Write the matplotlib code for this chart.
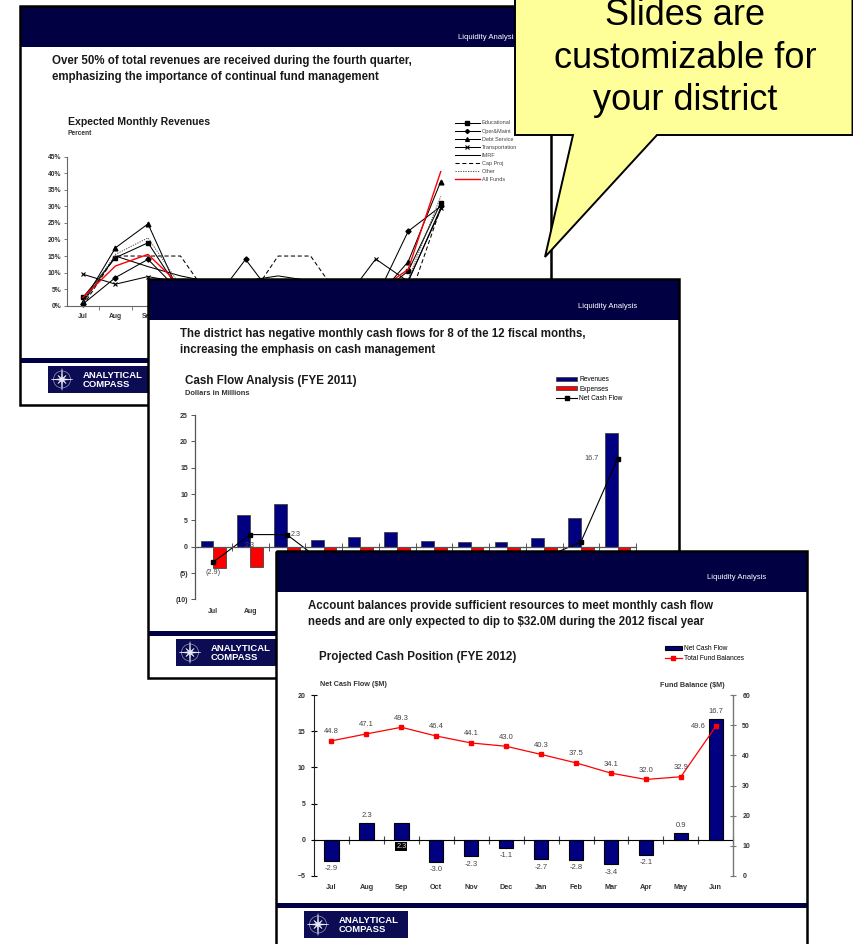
import matplotlib
matplotlib.use('Agg')
import matplotlib.pyplot as plt
from matplotlib.patches import Rectangle, Polygon, Circle
from matplotlib.transforms import blended_transform_factory
import numpy as np

plt.rcParams['font.family'] = ['Liberation Sans', 'DejaVu Sans']

# ---------------- data ----------------
months = ['Jul', 'Aug', 'Sep', 'Oct', 'Nov', 'Dec', 'Jan', 'Feb', 'Mar', 'Apr', 'May', 'Jun']

# Slide 1: Expected Monthly Revenues (percent)
educational    = [2.5, 14.5, 19.0, 4.0, 2.0, 3.0, 3.5, 2.5, 3.0, 2.5, 10.5, 31.0]
oper_maint     = [0.5, 8.5, 14.0, 4.0, 1.0, 14.0, 1.0, 2.0, 3.0, 2.0, 22.5, 30.0]
debt_service   = [1.0, 17.5, 24.7, 3.0, 1.0, 1.0, 1.0, 1.0, 1.0, 2.0, 13.3, 37.5]
transportation = [9.5, 6.5, 8.8, 7.0, 7.0, 7.0, 7.0, 7.0, 1.0, 14.1, 7.3, 29.5]
imrf           = [1.0, 15.0, 11.8, 9.0, 7.0, 7.5, 9.0, 7.5, 7.5, 7.5, 7.5, 29.0]
cap_proj       = [0.0, 15.0, 15.0, 15.0, 1.0, 0.5, 15.0, 15.0, 1.0, 1.0, 1.0, 29.5]
other          = [1.0, 15.5, 20.5, 6.0, 5.0, 5.0, 5.0, 5.0, 5.0, 5.0, 8.0, 33.0]
all_funds      = [2.5, 12.0, 15.5, 6.0, 4.0, 5.0, 4.0, 3.5, 3.0, 4.0, 11.0, 40.5]
pct_ticks = [0, 5, 10, 15, 20, 25, 30, 35, 40, 45]

# Slide 2: Cash Flow Analysis (FYE 2011), $ millions
revenues_2011 = [1.1, 6.1, 8.1, 1.3, 1.8, 2.8, 1.0, 0.8, 0.9, 1.7, 5.4, 21.5]
expenses_2011 = [-4.0, -3.8, -5.8, -4.3, -4.1, -3.9, -3.7, -3.6, -4.3, -3.8, -4.5, -4.8]
net_cash_flow_2011 = [-2.9, 2.3, 2.3, -3.0, -2.3, -1.1, -2.7, -2.8, -3.4, -2.1, 0.9, 16.7]
cf_ticks = [-10, -5, 0, 5, 10, 15, 20, 25]

# Slide 3: Projected Cash Position (FYE 2012), $ millions
net_cash_flow_2012 = [-2.9, 2.3, 2.3, -3.0, -2.3, -1.1, -2.7, -2.8, -3.4, -2.1, 0.9, 16.7]
fund_balances_2012 = [44.8, 47.1, 49.3, 46.4, 44.1, 43.0, 40.3, 37.5, 34.1, 32.0, 32.9, 49.6]
ncf_ticks = [-5, 0, 5, 10, 15, 20]
fb_ticks = [0, 10, 20, 30, 40, 50, 60]

slide_titles = [
    ['Over 50% of total revenues are received during the fourth quarter,',
     'emphasizing the importance of continual fund management'],
    ['The district has negative monthly cash flows for 8 of the 12 fiscal months,',
     'increasing the emphasis on cash management'],
    ['Account balances provide sufficient resources to meet monthly cash flow',
     'needs and are only expected to dip to $32.0M during the 2012 fiscal year'],
]
callout_lines = ['Slides are', 'customizable for', 'your district']

# ---------------- layout ----------------
W, H = 854, 944
fig = plt.figure(figsize=(W / 100, H / 100), dpi=100)
fig.patch.set_facecolor('white')

NAVY = '#000042'
BARNAVY = '#000080'
TXT = '#1a1a1a'
SW, SH = 531, 399
SLIDE_ORIGINS = [(20, 6), (148, 279), (276, 551)]


def frac(x0, y0, x1, y1):
    return [x0 / W, 1 - y1 / H, (x1 - x0) / W, (y1 - y0) / H]


def covered(level, px, py):
    """True if pixel (px, py) (top-left origin) lies under a slide stacked above `level`."""
    for sx, sy in SLIDE_ORIGINS[level + 1:]:
        if sx <= px <= sx + SW and sy <= py <= sy + SH:
            return True
    return False


def to_px(trans, xy):
    dx, dy = trans.transform(xy)
    return dx, H - dy


def draw_logo(ax, x, y, w, h):
    ax.add_patch(Rectangle((x, y), w, h, facecolor='#0c0c55', edgecolor='none'))
    cx, cy = x + 14, y + h / 2
    ax.add_patch(Circle((cx, cy), 8.5, fill=False, edgecolor='#9a9ab8', lw=0.5))
    pts = []
    for k in range(16):
        ang = np.pi / 2 + k * np.pi / 8
        rr = 11 if k % 4 == 0 else (6 if k % 2 == 0 else 1.8)
        pts.append((cx + rr * np.cos(ang), cy - rr * np.sin(ang)))
    ax.add_patch(Polygon(pts, closed=True, facecolor='#e8e8f4', edgecolor='white', lw=0.3))
    ax.text(x + 35, y + h * 0.36, 'ANALYTICAL', color='white', fontsize=6.8,
            fontweight='bold', va='center')
    ax.text(x + 35, y + h * 0.70, 'COMPASS', color='white', fontsize=6.8,
            fontweight='bold', va='center')


def make_slide(level, titles, la_dx, la_dy):
    sx, sy = SLIDE_ORIGINS[level]
    x1, y1 = sx + SW, sy + SH
    ax = fig.add_axes(frac(sx, sy, x1, y1))
    ax.set_xlim(sx, x1)
    ax.set_ylim(y1, sy)
    ax.set_zorder(2 * level + 1)
    ax.axis('off')
    ax.add_patch(Rectangle((sx, sy), SW, SH, facecolor='white', edgecolor='none'))
    ax.add_patch(Rectangle((sx, sy + 1), SW, 40, facecolor=NAVY, edgecolor='none'))
    ax.text(sx + la_dx, sy + la_dy, 'Liquidity Analysis', color='white', fontsize=5.6,
            ha='right', va='center')
    for i, line in enumerate(titles):
        ax.text(sx + 32, sy + 55 + 16 * i, line, fontsize=8.3, fontweight='bold',
                va='center', color=TXT)
    ax.add_patch(Rectangle((sx, sy + 352), SW, 5, facecolor=NAVY, edgecolor='none'))
    draw_logo(ax, sx + 28, sy + 360, 104, 27)
    ax.add_patch(Rectangle((sx, sy), SW, SH, facecolor='none', edgecolor='black',
                           lw=1.8, clip_on=False))
    return ax


x = np.arange(len(months))

# ---------------- slide 1 ----------------
s1 = make_slide(0, slide_titles[0], 497, 31)
s1.text(68, 122, 'Expected Monthly Revenues', fontsize=7.6, fontweight='bold', va='center', color=TXT)
s1.text(68, 133.5, 'Percent', fontsize=4.8, fontweight='bold', va='center', color='#333333')

ax1 = fig.add_axes(frac(66.7, 156.7, 457, 305.7))
ax1.set_zorder(2)
ax1.patch.set_alpha(0)
series1 = [
    ('Educational', educational, dict(color='black', marker='s', ms=3.2)),
    ('Oper&Maint', oper_maint, dict(color='black', marker='D', ms=2.6)),
    ('Debt Service', debt_service, dict(color='black', marker='^', ms=3.4)),
    ('Transportation', transportation, dict(color='black', marker='x', ms=3.2, mew=0.8)),
    ('IMRF', imrf, dict(color='black')),
    ('Cap Proj', cap_proj, dict(color='black', ls=(0, (4, 2.5)))),
    ('Other', other, dict(color='#555555', ls=(0, (1.2, 1.2)))),
    ('All Funds', all_funds, dict(color='#ff0000', lw=1.0)),
]
for name, vals, kw in series1:
    kw = dict(kw)
    kw.setdefault('lw', 0.75)
    ax1.plot(x, vals, label=name, clip_on=False, **kw)
ax1.set_xlim(-0.5, 11.5)
ax1.set_ylim(0, 45)
ax1.set_yticks(pct_ticks)
ax1.set_yticklabels([f'{t}%' for t in pct_ticks])
ax1.set_xticks(x)
ax1.set_xticks(np.arange(0.5, 12, 1), minor=True)
ax1.set_xticklabels([])
for sp in ['top', 'right']:
    ax1.spines[sp].set_visible(False)
for sp in ['left', 'bottom']:
    ax1.spines[sp].set_color('#666666')
    ax1.spines[sp].set_linewidth(0.8)
ax1.tick_params(axis='y', length=2.5, width=0.6, color='#666666', pad=1.5, labelsize=4.9)
ax1.tick_params(axis='x', which='major', length=0)
ax1.tick_params(axis='x', which='minor', length=3, width=0.6, color='#666666')
for lab in ax1.get_yticklabels():
    lab.set_fontweight('bold')
    lab.set_color('#333333')
tr1 = blended_transform_factory(ax1.transData, ax1.transAxes)
for i, m in enumerate(months):
    px, py = to_px(tr1, (i, 0))
    if covered(0, px - 6, py + 10):
        continue
    ax1.annotate(m, xy=(i, 0), xycoords=tr1, xytext=(0, -5.5), textcoords='offset points',
                 ha='center', va='top', fontsize=4.9, fontweight='bold', color='#333333')
leg1 = ax1.legend(loc='upper left', bbox_to_anchor=(455 / W, 1 - 120.5 / H),
                  bbox_transform=fig.transFigure, frameon=False, fontsize=4,
                  handlelength=4.5, handletextpad=0.35, labelspacing=0.55,
                  borderpad=0, borderaxespad=0, markerscale=0.8)
for t in leg1.get_texts():
    t.set_color('#444444')

# ---------------- slide 2 ----------------
s2 = make_slide(1, slide_titles[1], 489, 28)
s2.text(185, 381, 'Cash Flow Analysis (FYE 2011)', fontsize=8.4, fontweight='bold', va='center', color=TXT)
s2.text(185, 393.5, 'Dollars in Millions', fontsize=5.4, fontweight='bold', va='center', color='#333333')

ax2 = fig.add_axes(frac(195, 415, 636, 599.4))
ax2.set_zorder(4)
ax2.patch.set_alpha(0)
bw2 = 0.345
ax2.bar(x - bw2 / 2, revenues_2011, bw2, color=BARNAVY, edgecolor='#444444', lw=0.6, label='Revenues')
ax2.bar(x + bw2 / 2, expenses_2011, bw2, color='#ff0000', edgecolor='#444444', lw=0.6, label='Expenses')
ax2.plot(x, net_cash_flow_2011, color='black', lw=0.8, marker='s', ms=3.4, label='Net Cash Flow')
ax2.set_xlim(-0.5, 11.5)
ax2.set_ylim(-10, 25)
ax2.set_yticks(cf_ticks)
ax2.set_yticklabels([f'({abs(t)})' if t < 0 else f'{t}' for t in cf_ticks])
ax2.set_xticks(np.arange(0.5, 12, 1))
ax2.set_xticklabels([])
for sp in ['top', 'right']:
    ax2.spines[sp].set_visible(False)
ax2.spines['bottom'].set_position(('data', 0))
for sp in ['left', 'bottom']:
    ax2.spines[sp].set_color('#555555')
    ax2.spines[sp].set_linewidth(0.9)
ax2.tick_params(axis='y', length=3, width=0.7, color='#555555', pad=2, labelsize=5)
ax2.tick_params(axis='x', direction='inout', length=6, width=0.7, color='#555555')
for lab in ax2.get_yticklabels():
    lab.set_fontweight('bold')
    lab.set_color('#333333')
tr2 = blended_transform_factory(ax2.transData, ax2.transAxes)
for i, m in enumerate(months):
    px, py = to_px(tr2, (i, 0))
    if covered(1, px - 6, py + 10):
        continue
    ax2.annotate(m, xy=(i, 0), xycoords=tr2, xytext=(0, -6.5), textcoords='offset points',
                 ha='center', va='top', fontsize=5, fontweight='bold', color='#333333')
label_side2 = ['below', 'below', 'right', 'below', 'below', 'below', 'below', 'below',
               'below', 'below', 'below', 'left']
for i, (v, side) in enumerate(zip(net_cash_flow_2011, label_side2)):
    txt = f'({abs(v):.1f})' if v < 0 else f'{v:.1f}'
    px, py = to_px(ax2.transData, (i, v))
    if side == 'below':
        off, ha, va = (0, -5), 'center', 'top'
        cx, cy = px, py + 11
    elif side == 'right':
        off, ha, va = (2.5, 0), 'left', 'center'
        cx, cy = px + 12, py
    else:
        off, ha, va = (-14, 0), 'right', 'center'
        cx, cy = px - 30, py
    if covered(1, cx, cy):
        continue
    ax2.annotate(txt, xy=(i, v), xytext=off, textcoords='offset points', ha=ha, va=va,
                 fontsize=5.2, color='#444444')
h2, l2 = ax2.get_legend_handles_labels()
order2 = [l2.index('Revenues'), l2.index('Expenses'), l2.index('Net Cash Flow')]
ax2.legend([h2[k] for k in order2], [l2[k] for k in order2], loc='upper left',
           bbox_to_anchor=(556 / W, 1 - 376 / H),
           bbox_transform=fig.transFigure, frameon=False, fontsize=4.8,
           handlelength=3.2, handleheight=0.6, handletextpad=0.3, labelspacing=0.4,
           borderpad=0, borderaxespad=0, markerscale=0.8)

# ---------------- slide 3 ----------------
s3 = make_slide(2, slide_titles[2], 490, 26)
s3.text(319, 656.5, 'Projected Cash Position (FYE 2012)', fontsize=8.4, fontweight='bold',
        va='center', color=TXT)
s3.text(320, 684, 'Net Cash Flow ($M)', fontsize=5.2, fontweight='bold', va='center', color='#333333')
s3.text(724.5, 685, 'Fund Balance ($M)', fontsize=5.2, fontweight='bold', va='center', ha='right',
        color='#333333')

ax3 = fig.add_axes(frac(314, 695, 733.3, 876))
ax3.set_zorder(6)
ax3.patch.set_alpha(0)
ax3.bar(x, net_cash_flow_2012, 0.41, color=BARNAVY, edgecolor='black', lw=0.8, label='Net Cash Flow')
ax3.set_xlim(-0.5, 11.5)
ax3.set_ylim(-5, 20)
ax3.set_yticks(ncf_ticks)
ax3.set_xticks(np.arange(0.5, 12, 1))
ax3.set_xticklabels([])
ax3.spines['top'].set_visible(False)
ax3.spines['bottom'].set_position(('data', 0))
ax3.spines['bottom'].set_color('black')
ax3.spines['left'].set_color('#222222')
ax3.spines['right'].set_visible(False)
ax3.tick_params(axis='y', direction='inout', length=5, width=0.8, pad=3.5, labelsize=5)
ax3.tick_params(axis='x', direction='inout', length=6, width=0.8, color='#444444')
for lab in ax3.get_yticklabels():
    lab.set_fontweight('bold')
    lab.set_color('#333333')
tr3 = blended_transform_factory(ax3.transData, ax3.transAxes)
for i, m in enumerate(months):
    ax3.annotate(m, xy=(i, 0), xycoords=tr3, xytext=(0, -5.5), textcoords='offset points',
                 ha='center', va='top', fontsize=5.2, fontweight='bold', color='#333333')
for i, v in enumerate(net_cash_flow_2012):
    if i == 2:
        ax3.annotate(f'{v:.1f}', xy=(i, 0), xytext=(0, -2.2), textcoords='offset points',
                     ha='center', va='top', fontsize=5.3, color='#dddddd',
                     bbox=dict(facecolor='black', edgecolor='none', pad=0.6))
    elif v >= 0:
        ax3.annotate(f'{v:.1f}', xy=(i, v), xytext=(0, 3), textcoords='offset points',
                     ha='center', va='bottom', fontsize=5.5, color='#444444')
    else:
        ax3.annotate(f'{v:.1f}', xy=(i, v), xytext=(0, -3), textcoords='offset points',
                     ha='center', va='top', fontsize=5.5, color='#444444')

ax3b = ax3.twinx()
ax3b.set_zorder(7)
ax3b.plot(x, fund_balances_2012, color='#ff0000', lw=0.9, marker='s', ms=3,
          label='Total Fund Balances')
ax3b.set_ylim(0, 60)
ax3b.set_yticks(fb_ticks)
for sp in ['top', 'left', 'bottom']:
    ax3b.spines[sp].set_visible(False)
ax3b.spines['right'].set_color('#777777')
ax3b.spines['right'].set_linewidth(1.0)
ax3b.tick_params(axis='y', direction='inout', length=5, width=0.8, color='#777777', pad=4,
                 labelsize=5)
for lab in ax3b.get_yticklabels():
    lab.set_fontweight('bold')
    lab.set_color('#333333')
for i, v in enumerate(fund_balances_2012):
    if i == len(fund_balances_2012) - 1:
        ax3b.annotate(f'{v:.1f}', xy=(i, v), xytext=(-7.5, 0), textcoords='offset points',
                      ha='right', va='center', fontsize=5.5, color='#444444')
    else:
        ax3b.annotate(f'{v:.1f}', xy=(i, v), xytext=(0, 4), textcoords='offset points',
                      ha='center', va='bottom', fontsize=5.5, color='#444444')
h3a, l3a = ax3.get_legend_handles_labels()
h3b, l3b = ax3b.get_legend_handles_labels()
ax3b.legend(h3a + h3b, l3a + l3b, loc='upper left', bbox_to_anchor=(665 / W, 1 - 645.5 / H),
            bbox_transform=fig.transFigure, frameon=False, fontsize=4.8,
            handlelength=2.5, handleheight=0.6, handletextpad=0.3, labelspacing=0.35,
            borderpad=0, borderaxespad=0, markerscale=0.8)

# ---------------- callout ----------------
axc = fig.add_axes([0, 0, 1, 1])
axc.set_xlim(0, W)
axc.set_ylim(H, 0)
axc.axis('off')
axc.set_zorder(20)
axc.add_patch(Polygon([(515, -5), (852.5, -5), (852.5, 135), (657, 135), (545, 257),
                       (573, 135), (515, 135)], closed=True, facecolor='#ffff99',
                      edgecolor='black', lw=1.4, joinstyle='miter'))
for txt, yb in zip(callout_lines, [25, 67.5, 110]):
    axc.text(685, yb, txt, fontsize=26, ha='center', va='baseline', color='black')

fig.savefig('out.png', dpi=100)
